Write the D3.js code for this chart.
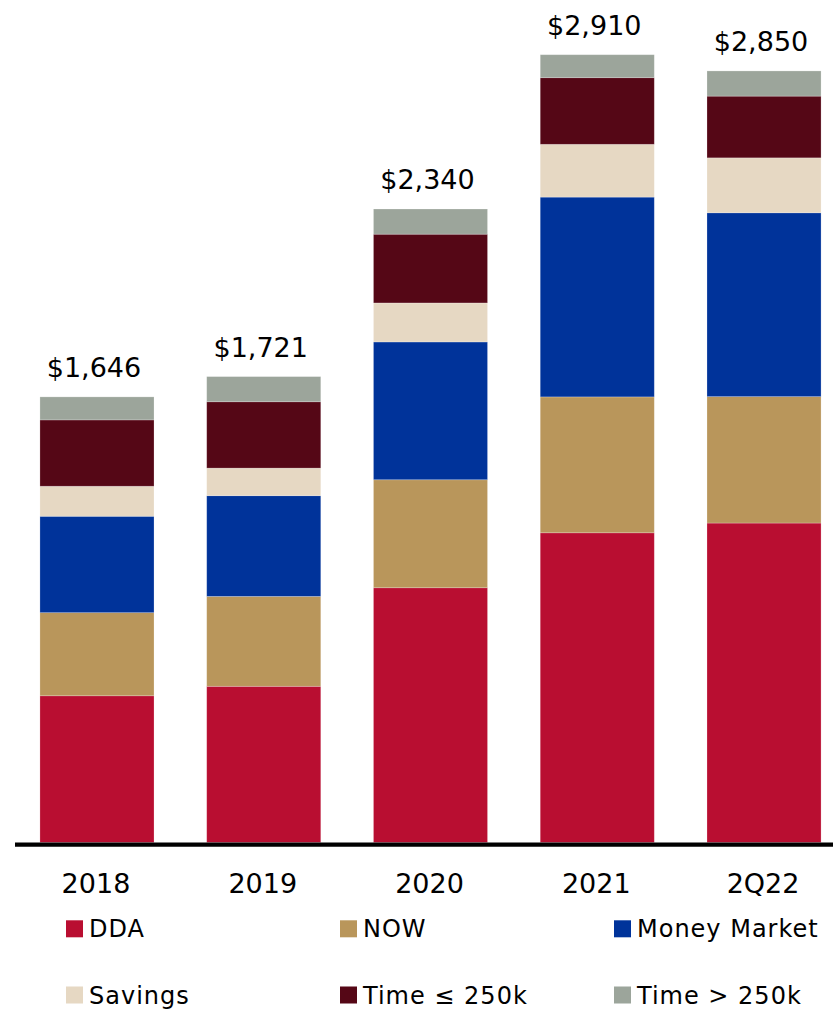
<!DOCTYPE html>
<html>
<head>
<meta charset="utf-8">
<script src="https://cdn.jsdelivr.net/npm/d3@7"></script>
<style>
  html, body { margin: 0; padding: 0; background: #fff; }
  svg { display: block; }
  text { font-family: "DejaVu Sans", sans-serif; fill: #000; }
</style>
</head>
<body>
<svg id="chart" width="833" height="1011"></svg>
<script>
// Deposit mix by period ($ millions)
const periods = ["2018", "2019", "2020", "2021", "2Q22"];
const seriesNames = ["DDA", "NOW", "Money Market", "Savings", "Time \u2264 250k", "Time > 250k"];
const seriesColors = ["#B90E31", "#B9965B", "#00339A", "#E6D8C3", "#550716", "#9CA59B"];

const dda         = [542, 577, 941, 1144, 1180];
const now         = [307, 332, 399, 502, 467];
const moneyMarket = [356, 372, 509, 738, 679];
const savings     = [111, 102, 144, 195, 203];
const timeSmall   = [245, 245, 254, 246, 228];
const timeLarge   = [85, 93, 93, 85, 93];

const totalLabels = ["$1,646", "$1,721", "$2,340", "$2,910", "$2,850"];

const seriesValues = [dda, now, moneyMarket, savings, timeSmall, timeLarge];

const rows = periods.map((p, i) => {
  const r = { period: p };
  seriesNames.forEach((s, k) => { r[s] = seriesValues[k][i]; });
  return r;
});
const totals = rows.map(r => d3.sum(seriesNames, s => r[s]));

const svg = d3.select("#chart");

const x = d3.scaleBand()
  .domain(periods)
  .range([13.6, 847.4])
  .paddingInner(0.316)
  .paddingOuter(0.158);

const y = d3.scaleLinear()
  .domain([0, d3.max(totals)])
  .range([842.5, 54.7]);

const stack = d3.stack().keys(seriesNames);
const layers = stack(rows);

const color = d3.scaleOrdinal().domain(seriesNames).range(seriesColors);

// stacked segments
svg.append("g")
  .selectAll("g")
  .data(layers)
  .join("g")
    .attr("fill", d => color(d.key))
  .selectAll("rect")
  .data(d => d)
  .join("rect")
    .attr("x", d => x(d.data.period))
    .attr("width", x.bandwidth())
    .attr("y", d => y(d[1]))
    .attr("height", d => y(d[0]) - y(d[1]))
    .attr("stroke", "rgba(255,255,255,0.3)")
    .attr("stroke-width", 0.75);

// totals above bars
svg.append("g")
  .selectAll("text")
  .data(periods)
  .join("text")
    .attr("x", p => x(p) + x.bandwidth() / 2 - 3)
    .attr("y", (p, i) => y(totals[i]) - 20)
    .attr("text-anchor", "middle")
    .attr("font-size", 27)
    .text((p, i) => totalLabels[i]);

// baseline
svg.append("line")
  .attr("x1", 15).attr("x2", 833)
  .attr("y1", y(0) + 2.1).attr("y2", y(0) + 2.1)
  .attr("stroke", "#000")
  .attr("stroke-width", 4.2);

// category axis
const xAxis = d3.axisBottom(x).tickSize(0).tickPadding(0);
const gx = svg.append("g")
  .attr("transform", `translate(-1, ${892.7})`)
  .call(xAxis);
gx.select(".domain").remove();
gx.selectAll("text")
  .attr("dy", 0)
  .attr("font-size", 27)
  .attr("font-family", "DejaVu Sans, sans-serif")
  .attr("fill", "#000");

// legend: 3 columns x 2 rows
const legendCols = [66, 340, 614];
const legendRows = [937.3, 1003.5];
const legend = svg.append("g")
  .selectAll("g")
  .data(seriesNames)
  .join("g")
    .attr("transform", (d, i) => `translate(${legendCols[i % 3]}, ${legendRows[Math.floor(i / 3)]})`);

legend.append("rect")
  .attr("x", 0)
  .attr("y", -17)
  .attr("width", 17)
  .attr("height", 17)
  .attr("fill", d => color(d));

legend.append("text")
  .attr("x", 23)
  .attr("y", 0)
  .attr("font-size", 24)
  .attr("letter-spacing", 1)
  .text(d => d);
</script>
</body>
</html>
